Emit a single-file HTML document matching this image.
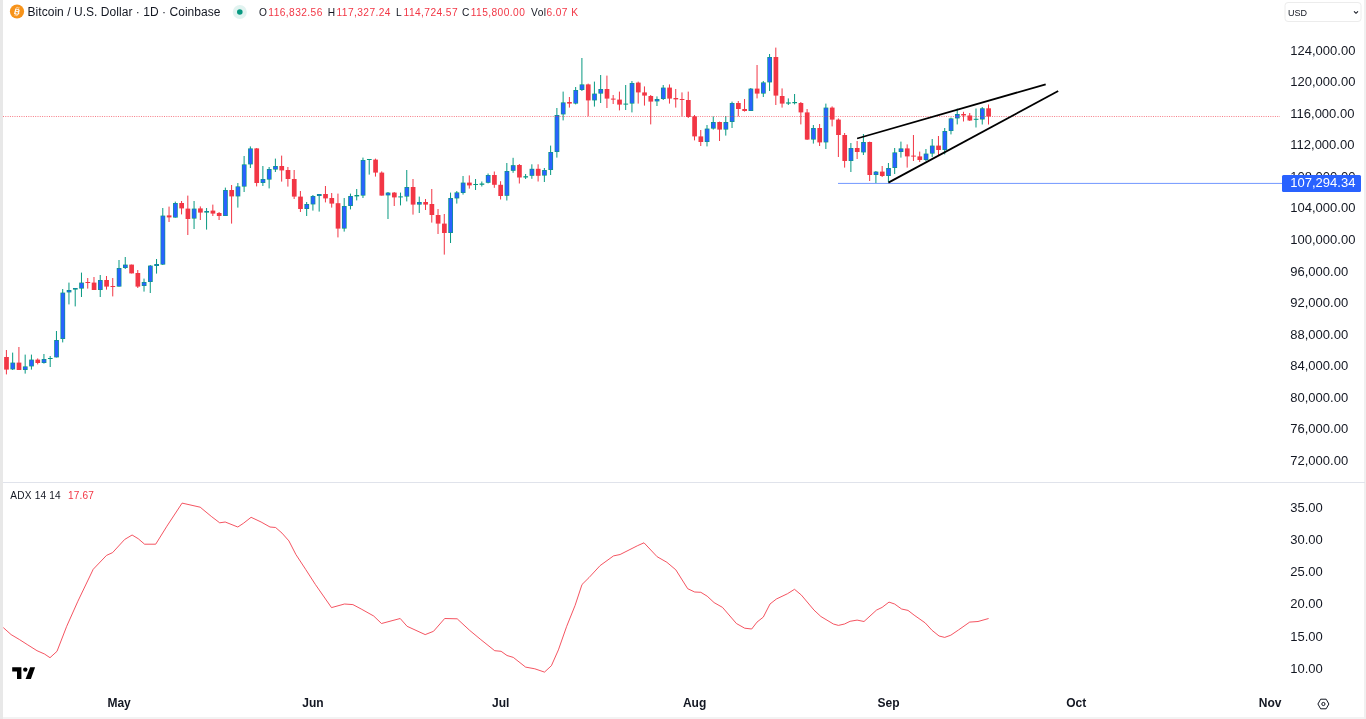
<!DOCTYPE html>
<html><head><meta charset="utf-8"><style>
html,body{margin:0;padding:0;background:#fff;}
body{width:1366px;height:719px;overflow:hidden;position:relative;font-family:"Liberation Sans",sans-serif;}
svg{position:absolute;left:0;top:0;will-change:transform;}
</style></head><body>
<svg width="1366" height="719" viewBox="0 0 1366 719" font-family="Liberation Sans, sans-serif">
<rect x="0" y="0" width="1366" height="719" fill="#ffffff"/>
<!-- borders -->
<rect x="0" y="0" width="3" height="719" fill="#e8e8e8"/>
<rect x="3" y="717" width="1366" height="2" fill="#f3f3f3"/>
<rect x="1364" y="0" width="2" height="719" fill="#f0f0f0"/>
<!-- pane separator -->
<rect x="3" y="482" width="1362" height="1" fill="#e0e3eb"/>
<!-- horizontal blue line -->
<rect x="838" y="182.9" width="444" height="1.1" fill="#2962ff" opacity="0.6"/>
<g fill="#f23645"><rect x="5.90" y="350.0" width="1" height="24.4"/><rect x="18.41" y="347.0" width="1" height="23.0"/><rect x="37.18" y="358.4" width="1" height="6.0"/><rect x="87.22" y="278.0" width="1" height="10.6"/><rect x="93.48" y="277.0" width="1" height="13.0"/><rect x="105.99" y="276.0" width="1" height="13.6"/><rect x="112.24" y="278.0" width="1" height="18.4"/><rect x="131.01" y="264.6" width="1" height="8.8"/><rect x="137.26" y="270.0" width="1" height="18.0"/><rect x="168.54" y="206.6" width="1" height="15.4"/><rect x="181.05" y="201.0" width="1" height="13.4"/><rect x="187.31" y="195.6" width="1" height="39.4"/><rect x="199.82" y="206.4" width="1" height="13.6"/><rect x="212.33" y="204.6" width="1" height="11.4"/><rect x="218.58" y="212.0" width="1" height="8.0"/><rect x="231.09" y="185.0" width="1" height="38.6"/><rect x="256.12" y="148.0" width="1" height="38.4"/><rect x="281.14" y="155.6" width="1" height="26.0"/><rect x="287.39" y="167.0" width="1" height="19.6"/><rect x="293.65" y="170.0" width="1" height="29.0"/><rect x="299.90" y="191.0" width="1" height="21.0"/><rect x="324.93" y="186.0" width="1" height="16.4"/><rect x="331.18" y="193.0" width="1" height="14.6"/><rect x="337.44" y="193.6" width="1" height="43.8"/><rect x="374.97" y="158.6" width="1" height="18.0"/><rect x="381.22" y="171.4" width="1" height="24.2"/><rect x="393.73" y="192.0" width="1" height="14.0"/><rect x="412.50" y="179.0" width="1" height="35.6"/><rect x="425.01" y="199.0" width="1" height="11.0"/><rect x="431.27" y="189.0" width="1" height="33.6"/><rect x="437.52" y="209.0" width="1" height="25.0"/><rect x="443.78" y="214.0" width="1" height="40.6"/><rect x="468.80" y="175.4" width="1" height="13.2"/><rect x="493.82" y="171.5" width="1" height="16.3"/><rect x="500.08" y="181.2" width="1" height="18.3"/><rect x="518.84" y="164.0" width="1" height="19.5"/><rect x="537.61" y="164.3" width="1" height="17.2"/><rect x="568.89" y="97.0" width="1" height="10.6"/><rect x="587.65" y="83.6" width="1" height="32.8"/><rect x="606.42" y="75.6" width="1" height="32.4"/><rect x="612.67" y="95.0" width="1" height="9.0"/><rect x="618.93" y="91.6" width="1" height="18.8"/><rect x="637.70" y="81.6" width="1" height="22.0"/><rect x="643.95" y="86.4" width="1" height="19.2"/><rect x="650.21" y="95.0" width="1" height="29.4"/><rect x="668.97" y="84.4" width="1" height="19.2"/><rect x="675.23" y="89.0" width="1" height="18.6"/><rect x="681.48" y="92.4" width="1" height="24.0"/><rect x="687.74" y="91.6" width="1" height="26.4"/><rect x="693.99" y="115.0" width="1" height="25.4"/><rect x="700.25" y="130.0" width="1" height="16.0"/><rect x="719.02" y="121.6" width="1" height="19.4"/><rect x="737.78" y="101.0" width="1" height="15.4"/><rect x="744.04" y="99.0" width="1" height="12.6"/><rect x="756.55" y="65.0" width="1" height="33.4"/><rect x="775.31" y="47.6" width="1" height="57.4"/><rect x="781.57" y="88.4" width="1" height="19.2"/><rect x="800.34" y="102.0" width="1" height="22.4"/><rect x="806.59" y="109.0" width="1" height="31.0"/><rect x="819.10" y="124.0" width="1" height="22.0"/><rect x="831.61" y="106.4" width="1" height="20.0"/><rect x="837.87" y="118.4" width="1" height="38.6"/><rect x="844.12" y="133.0" width="1" height="34.6"/><rect x="856.63" y="141.0" width="1" height="18.0"/><rect x="869.15" y="141.6" width="1" height="39.4"/><rect x="881.66" y="166.0" width="1" height="11.0"/><rect x="906.68" y="144.4" width="1" height="23.2"/><rect x="912.93" y="135.0" width="1" height="26.0"/><rect x="919.19" y="151.6" width="1" height="10.4"/><rect x="937.95" y="136.0" width="1" height="19.6"/><rect x="962.98" y="111.8" width="1" height="9.7"/><rect x="969.23" y="113.0" width="1" height="8.0"/><rect x="988.00" y="104.5" width="1" height="20.0"/><rect x="4.15" y="357.0" width="4.7" height="12.6"/><rect x="16.66" y="362.6" width="4.7" height="7.4"/><rect x="35.43" y="359.6" width="4.7" height="3.4"/><rect x="85.47" y="282.0" width="4.7" height="1.0"/><rect x="91.73" y="282.6" width="4.7" height="7.4"/><rect x="104.24" y="280.0" width="4.7" height="6.6"/><rect x="110.49" y="286.0" width="4.7" height="1.0"/><rect x="129.26" y="264.6" width="4.7" height="8.8"/><rect x="135.51" y="273.0" width="4.7" height="13.6"/><rect x="166.79" y="215.4" width="4.7" height="2.0"/><rect x="179.30" y="203.0" width="4.7" height="5.4"/><rect x="185.56" y="208.6" width="4.7" height="10.4"/><rect x="198.07" y="208.4" width="4.7" height="4.2"/><rect x="210.58" y="210.6" width="4.7" height="3.0"/><rect x="216.83" y="213.0" width="4.7" height="3.0"/><rect x="229.34" y="190.0" width="4.7" height="6.4"/><rect x="254.37" y="148.4" width="4.7" height="34.6"/><rect x="279.39" y="166.0" width="4.7" height="4.4"/><rect x="285.64" y="170.0" width="4.7" height="9.0"/><rect x="291.90" y="179.0" width="4.7" height="17.6"/><rect x="298.15" y="196.6" width="4.7" height="12.4"/><rect x="323.18" y="194.0" width="4.7" height="4.4"/><rect x="329.43" y="198.0" width="4.7" height="5.6"/><rect x="335.69" y="203.2" width="4.7" height="25.4"/><rect x="373.22" y="159.6" width="4.7" height="13.0"/><rect x="379.47" y="172.6" width="4.7" height="23.0"/><rect x="391.98" y="192.6" width="4.7" height="4.8"/><rect x="410.75" y="187.0" width="4.7" height="17.6"/><rect x="423.26" y="202.0" width="4.7" height="2.6"/><rect x="429.52" y="204.0" width="4.7" height="11.0"/><rect x="435.77" y="215.0" width="4.7" height="8.6"/><rect x="442.03" y="223.6" width="4.7" height="9.4"/><rect x="467.05" y="182.6" width="4.7" height="2.8"/><rect x="492.07" y="175.0" width="4.7" height="9.8"/><rect x="498.33" y="184.8" width="4.7" height="11.2"/><rect x="517.09" y="165.0" width="4.7" height="12.5"/><rect x="535.86" y="168.8" width="4.7" height="7.0"/><rect x="567.14" y="102.0" width="4.7" height="1.6"/><rect x="585.90" y="84.4" width="4.7" height="16.0"/><rect x="604.67" y="89.0" width="4.7" height="9.6"/><rect x="610.92" y="98.6" width="4.7" height="1.0"/><rect x="617.18" y="99.6" width="4.7" height="5.0"/><rect x="635.95" y="82.6" width="4.7" height="9.8"/><rect x="642.20" y="92.4" width="4.7" height="3.2"/><rect x="648.46" y="96.0" width="4.7" height="5.6"/><rect x="667.22" y="87.6" width="4.7" height="11.0"/><rect x="673.48" y="98.0" width="4.7" height="1.4"/><rect x="679.73" y="99.0" width="4.7" height="1.0"/><rect x="685.99" y="100.0" width="4.7" height="17.0"/><rect x="692.24" y="116.4" width="4.7" height="20.0"/><rect x="698.50" y="136.4" width="4.7" height="5.6"/><rect x="717.27" y="122.0" width="4.7" height="7.6"/><rect x="736.03" y="103.0" width="4.7" height="6.0"/><rect x="742.29" y="109.0" width="4.7" height="2.0"/><rect x="754.80" y="88.6" width="4.7" height="5.0"/><rect x="773.56" y="57.0" width="4.7" height="38.6"/><rect x="779.82" y="96.0" width="4.7" height="7.6"/><rect x="798.59" y="103.0" width="4.7" height="9.4"/><rect x="804.84" y="112.4" width="4.7" height="27.2"/><rect x="817.35" y="128.0" width="4.7" height="14.4"/><rect x="829.86" y="107.6" width="4.7" height="12.0"/><rect x="836.12" y="119.6" width="4.7" height="15.4"/><rect x="842.37" y="135.0" width="4.7" height="26.0"/><rect x="854.88" y="148.0" width="4.7" height="4.0"/><rect x="867.40" y="142.0" width="4.7" height="33.0"/><rect x="879.91" y="171.6" width="4.7" height="4.4"/><rect x="904.93" y="148.4" width="4.7" height="8.0"/><rect x="911.18" y="155.6" width="4.7" height="1.0"/><rect x="917.44" y="156.4" width="4.7" height="3.6"/><rect x="936.20" y="145.6" width="4.7" height="4.4"/><rect x="961.23" y="114.0" width="4.7" height="1.5"/><rect x="967.48" y="115.5" width="4.7" height="5.0"/><rect x="986.25" y="108.3" width="4.7" height="8.2"/></g><g fill="#089981"><rect x="12.16" y="352.6" width="1" height="17.4"/><rect x="24.67" y="354.6" width="1" height="19.0"/><rect x="30.92" y="354.6" width="1" height="15.0"/><rect x="43.43" y="354.0" width="1" height="9.6"/><rect x="49.69" y="356.0" width="1" height="11.0"/><rect x="55.94" y="331.0" width="1" height="26.4"/><rect x="62.20" y="289.0" width="1" height="53.4"/><rect x="68.45" y="282.6" width="1" height="21.8"/><rect x="74.71" y="288.0" width="1" height="18.4"/><rect x="80.96" y="272.6" width="1" height="24.4"/><rect x="99.73" y="275.0" width="1" height="22.0"/><rect x="118.50" y="260.0" width="1" height="26.6"/><rect x="124.75" y="257.0" width="1" height="12.0"/><rect x="143.52" y="278.6" width="1" height="13.0"/><rect x="149.77" y="265.0" width="1" height="28.0"/><rect x="156.03" y="259.0" width="1" height="14.6"/><rect x="162.28" y="208.0" width="1" height="57.0"/><rect x="174.80" y="201.6" width="1" height="16.0"/><rect x="193.56" y="201.0" width="1" height="28.0"/><rect x="206.07" y="208.0" width="1" height="21.6"/><rect x="224.84" y="187.6" width="1" height="28.4"/><rect x="237.35" y="183.0" width="1" height="24.6"/><rect x="243.61" y="156.0" width="1" height="36.0"/><rect x="249.86" y="146.4" width="1" height="21.6"/><rect x="262.37" y="166.0" width="1" height="20.0"/><rect x="268.63" y="167.0" width="1" height="21.4"/><rect x="274.88" y="158.6" width="1" height="13.4"/><rect x="306.16" y="202.0" width="1" height="14.0"/><rect x="312.41" y="195.0" width="1" height="15.6"/><rect x="318.67" y="194.0" width="1" height="17.6"/><rect x="343.69" y="198.0" width="1" height="33.6"/><rect x="349.95" y="193.6" width="1" height="15.8"/><rect x="356.20" y="189.0" width="1" height="11.4"/><rect x="362.46" y="157.6" width="1" height="40.4"/><rect x="368.71" y="159.0" width="1" height="15.6"/><rect x="387.48" y="192.0" width="1" height="27.0"/><rect x="399.99" y="192.6" width="1" height="12.8"/><rect x="406.25" y="170.0" width="1" height="31.4"/><rect x="418.76" y="196.6" width="1" height="16.4"/><rect x="450.03" y="192.6" width="1" height="50.4"/><rect x="456.29" y="191.0" width="1" height="12.6"/><rect x="462.54" y="176.0" width="1" height="18.6"/><rect x="475.05" y="179.0" width="1" height="11.0"/><rect x="481.31" y="181.5" width="1" height="5.0"/><rect x="487.57" y="173.5" width="1" height="9.9"/><rect x="506.33" y="163.0" width="1" height="37.5"/><rect x="512.59" y="157.8" width="1" height="15.0"/><rect x="525.10" y="174.0" width="1" height="5.0"/><rect x="531.35" y="164.3" width="1" height="14.5"/><rect x="543.86" y="168.0" width="1" height="14.0"/><rect x="550.12" y="145.6" width="1" height="29.4"/><rect x="556.38" y="108.0" width="1" height="49.6"/><rect x="562.63" y="91.6" width="1" height="28.8"/><rect x="575.14" y="87.0" width="1" height="17.4"/><rect x="581.40" y="58.0" width="1" height="33.0"/><rect x="593.91" y="81.6" width="1" height="25.0"/><rect x="600.16" y="75.0" width="1" height="28.0"/><rect x="625.18" y="85.0" width="1" height="25.0"/><rect x="631.44" y="81.0" width="1" height="31.4"/><rect x="656.46" y="96.4" width="1" height="9.6"/><rect x="662.72" y="85.0" width="1" height="15.0"/><rect x="706.50" y="125.0" width="1" height="21.4"/><rect x="712.76" y="116.4" width="1" height="13.2"/><rect x="725.27" y="116.0" width="1" height="19.6"/><rect x="731.53" y="101.6" width="1" height="26.4"/><rect x="750.29" y="88.0" width="1" height="23.0"/><rect x="762.80" y="81.0" width="1" height="16.0"/><rect x="769.06" y="54.0" width="1" height="37.0"/><rect x="787.82" y="98.4" width="1" height="6.6"/><rect x="794.08" y="94.0" width="1" height="10.4"/><rect x="812.85" y="125.0" width="1" height="18.6"/><rect x="825.36" y="103.6" width="1" height="45.4"/><rect x="850.38" y="143.0" width="1" height="29.0"/><rect x="862.89" y="134.0" width="1" height="21.0"/><rect x="875.40" y="171.0" width="1" height="12.0"/><rect x="887.91" y="163.0" width="1" height="19.0"/><rect x="894.17" y="148.0" width="1" height="26.0"/><rect x="900.42" y="141.6" width="1" height="16.0"/><rect x="925.44" y="149.0" width="1" height="12.0"/><rect x="931.70" y="139.0" width="1" height="18.0"/><rect x="944.21" y="128.0" width="1" height="26.4"/><rect x="950.47" y="117.6" width="1" height="16.8"/><rect x="956.72" y="108.6" width="1" height="15.8"/><rect x="975.49" y="108.5" width="1" height="19.0"/><rect x="981.74" y="107.0" width="1" height="17.5"/><rect x="10.41" y="362.6" width="4.7" height="6.8"/><rect x="22.92" y="366.4" width="4.7" height="3.6"/><rect x="29.17" y="359.6" width="4.7" height="6.8"/><rect x="41.68" y="359.0" width="4.7" height="4.0"/><rect x="47.94" y="358.0" width="4.7" height="1.0"/><rect x="54.19" y="340.0" width="4.7" height="17.4"/><rect x="60.45" y="292.6" width="4.7" height="46.4"/><rect x="66.70" y="290.0" width="4.7" height="2.4"/><rect x="72.96" y="288.0" width="4.7" height="1.6"/><rect x="79.21" y="282.6" width="4.7" height="6.0"/><rect x="97.98" y="280.0" width="4.7" height="10.0"/><rect x="116.75" y="268.0" width="4.7" height="18.6"/><rect x="123.00" y="264.6" width="4.7" height="3.4"/><rect x="141.77" y="282.0" width="4.7" height="4.0"/><rect x="148.02" y="265.6" width="4.7" height="16.4"/><rect x="154.28" y="264.0" width="4.7" height="2.0"/><rect x="160.53" y="215.6" width="4.7" height="49.0"/><rect x="173.05" y="203.0" width="4.7" height="14.6"/><rect x="191.81" y="208.6" width="4.7" height="10.0"/><rect x="204.32" y="211.0" width="4.7" height="1.6"/><rect x="223.09" y="190.0" width="4.7" height="26.0"/><rect x="235.60" y="186.4" width="4.7" height="10.0"/><rect x="241.86" y="164.4" width="4.7" height="22.2"/><rect x="248.11" y="148.4" width="4.7" height="16.0"/><rect x="260.62" y="179.0" width="4.7" height="4.0"/><rect x="266.88" y="169.0" width="4.7" height="10.6"/><rect x="273.13" y="166.0" width="4.7" height="3.6"/><rect x="304.41" y="204.0" width="4.7" height="5.0"/><rect x="310.66" y="196.0" width="4.7" height="8.4"/><rect x="316.92" y="194.0" width="4.7" height="2.0"/><rect x="341.94" y="206.0" width="4.7" height="22.6"/><rect x="348.20" y="196.0" width="4.7" height="10.0"/><rect x="354.45" y="195.0" width="4.7" height="1.4"/><rect x="360.71" y="160.0" width="4.7" height="35.6"/><rect x="366.96" y="159.0" width="4.7" height="1.0"/><rect x="385.73" y="192.6" width="4.7" height="2.8"/><rect x="398.24" y="196.4" width="4.7" height="1.0"/><rect x="404.50" y="187.0" width="4.7" height="9.6"/><rect x="417.01" y="202.0" width="4.7" height="2.6"/><rect x="448.28" y="198.0" width="4.7" height="35.0"/><rect x="454.54" y="192.4" width="4.7" height="6.0"/><rect x="460.79" y="182.6" width="4.7" height="10.4"/><rect x="473.30" y="184.0" width="4.7" height="1.0"/><rect x="479.56" y="183.5" width="4.7" height="1.3"/><rect x="485.82" y="175.0" width="4.7" height="7.8"/><rect x="504.58" y="171.0" width="4.7" height="24.8"/><rect x="510.84" y="165.2" width="4.7" height="5.6"/><rect x="523.35" y="176.2" width="4.7" height="1.3"/><rect x="529.60" y="168.8" width="4.7" height="7.0"/><rect x="542.11" y="170.0" width="4.7" height="5.6"/><rect x="548.37" y="152.0" width="4.7" height="18.0"/><rect x="554.63" y="115.0" width="4.7" height="37.0"/><rect x="560.88" y="102.4" width="4.7" height="12.0"/><rect x="573.39" y="90.0" width="4.7" height="13.6"/><rect x="579.65" y="84.4" width="4.7" height="5.6"/><rect x="592.16" y="93.6" width="4.7" height="6.8"/><rect x="598.41" y="89.0" width="4.7" height="4.6"/><rect x="623.43" y="103.6" width="4.7" height="1.0"/><rect x="629.69" y="83.0" width="4.7" height="20.6"/><rect x="654.71" y="99.0" width="4.7" height="2.4"/><rect x="660.97" y="87.6" width="4.7" height="11.4"/><rect x="704.75" y="128.6" width="4.7" height="13.4"/><rect x="711.01" y="122.0" width="4.7" height="6.6"/><rect x="723.52" y="122.0" width="4.7" height="7.6"/><rect x="729.78" y="103.0" width="4.7" height="19.0"/><rect x="748.54" y="88.6" width="4.7" height="22.4"/><rect x="761.05" y="82.4" width="4.7" height="11.2"/><rect x="767.31" y="57.0" width="4.7" height="25.4"/><rect x="786.07" y="102.4" width="4.7" height="1.2"/><rect x="792.33" y="102.0" width="4.7" height="1.2"/><rect x="811.10" y="128.0" width="4.7" height="11.6"/><rect x="823.61" y="107.6" width="4.7" height="34.8"/><rect x="848.63" y="148.0" width="4.7" height="13.0"/><rect x="861.14" y="142.0" width="4.7" height="10.4"/><rect x="873.65" y="171.6" width="4.7" height="3.4"/><rect x="886.16" y="168.0" width="4.7" height="8.0"/><rect x="892.42" y="152.4" width="4.7" height="15.6"/><rect x="898.67" y="148.4" width="4.7" height="3.6"/><rect x="923.69" y="153.6" width="4.7" height="6.4"/><rect x="929.95" y="145.6" width="4.7" height="8.0"/><rect x="942.46" y="131.0" width="4.7" height="19.0"/><rect x="948.72" y="118.4" width="4.7" height="12.6"/><rect x="954.97" y="114.0" width="4.7" height="4.4"/><rect x="973.74" y="118.8" width="4.7" height="1.0"/><rect x="979.99" y="108.3" width="4.7" height="11.2"/></g><g fill="#2962ff"><rect x="11.06" y="363.25" width="3.40" height="5.50"/><rect x="23.57" y="367.05" width="3.40" height="2.30"/><rect x="29.82" y="360.25" width="3.40" height="5.50"/><rect x="42.33" y="359.65" width="3.40" height="2.70"/><rect x="54.84" y="340.65" width="3.40" height="16.10"/><rect x="61.10" y="293.25" width="3.40" height="45.10"/><rect x="67.35" y="290.65" width="3.40" height="1.10"/><rect x="73.61" y="288.65" width="3.40" height="0.30"/><rect x="79.86" y="283.25" width="3.40" height="4.70"/><rect x="98.63" y="280.65" width="3.40" height="8.70"/><rect x="117.40" y="268.65" width="3.40" height="17.30"/><rect x="123.65" y="265.25" width="3.40" height="2.10"/><rect x="142.42" y="282.65" width="3.40" height="2.70"/><rect x="148.67" y="266.25" width="3.40" height="15.10"/><rect x="154.93" y="264.65" width="3.40" height="0.70"/><rect x="161.19" y="216.25" width="3.40" height="47.70"/><rect x="173.70" y="203.65" width="3.40" height="13.30"/><rect x="192.46" y="209.25" width="3.40" height="8.70"/><rect x="204.97" y="211.65" width="3.40" height="0.30"/><rect x="223.74" y="190.65" width="3.40" height="24.70"/><rect x="236.25" y="187.05" width="3.40" height="8.70"/><rect x="242.51" y="165.05" width="3.40" height="20.90"/><rect x="248.76" y="149.05" width="3.40" height="14.70"/><rect x="261.27" y="179.65" width="3.40" height="2.70"/><rect x="267.53" y="169.65" width="3.40" height="9.30"/><rect x="273.78" y="166.65" width="3.40" height="2.30"/><rect x="305.06" y="204.65" width="3.40" height="3.70"/><rect x="311.31" y="196.65" width="3.40" height="7.10"/><rect x="317.57" y="194.65" width="3.40" height="0.70"/><rect x="342.59" y="206.65" width="3.40" height="21.30"/><rect x="348.85" y="196.65" width="3.40" height="8.70"/><rect x="361.36" y="160.65" width="3.40" height="34.30"/><rect x="386.38" y="193.25" width="3.40" height="1.50"/><rect x="405.15" y="187.65" width="3.40" height="8.30"/><rect x="417.66" y="202.65" width="3.40" height="1.30"/><rect x="448.93" y="198.65" width="3.40" height="33.70"/><rect x="455.19" y="193.05" width="3.40" height="4.70"/><rect x="461.44" y="183.25" width="3.40" height="9.10"/><rect x="486.47" y="175.65" width="3.40" height="6.50"/><rect x="505.23" y="171.65" width="3.40" height="23.50"/><rect x="511.49" y="165.85" width="3.40" height="4.30"/><rect x="530.25" y="169.45" width="3.40" height="5.70"/><rect x="542.76" y="170.65" width="3.40" height="4.30"/><rect x="549.02" y="152.65" width="3.40" height="16.70"/><rect x="555.28" y="115.65" width="3.40" height="35.70"/><rect x="561.53" y="103.05" width="3.40" height="10.70"/><rect x="574.04" y="90.65" width="3.40" height="12.30"/><rect x="580.30" y="85.05" width="3.40" height="4.30"/><rect x="592.81" y="94.25" width="3.40" height="5.50"/><rect x="599.06" y="89.65" width="3.40" height="3.30"/><rect x="630.34" y="83.65" width="3.40" height="19.30"/><rect x="655.36" y="99.65" width="3.40" height="1.10"/><rect x="661.62" y="88.25" width="3.40" height="10.10"/><rect x="705.40" y="129.25" width="3.40" height="12.10"/><rect x="711.66" y="122.65" width="3.40" height="5.30"/><rect x="724.17" y="122.65" width="3.40" height="6.30"/><rect x="730.43" y="103.65" width="3.40" height="17.70"/><rect x="749.19" y="89.25" width="3.40" height="21.10"/><rect x="761.70" y="83.05" width="3.40" height="9.90"/><rect x="767.96" y="57.65" width="3.40" height="24.10"/><rect x="811.75" y="128.65" width="3.40" height="10.30"/><rect x="824.26" y="108.25" width="3.40" height="33.50"/><rect x="849.28" y="148.65" width="3.40" height="11.70"/><rect x="861.79" y="142.65" width="3.40" height="9.10"/><rect x="874.30" y="172.25" width="3.40" height="2.10"/><rect x="886.81" y="168.65" width="3.40" height="6.70"/><rect x="893.07" y="153.05" width="3.40" height="14.30"/><rect x="899.32" y="149.05" width="3.40" height="2.30"/><rect x="924.34" y="154.25" width="3.40" height="5.10"/><rect x="930.60" y="146.25" width="3.40" height="6.70"/><rect x="943.11" y="131.65" width="3.40" height="17.70"/><rect x="949.37" y="119.05" width="3.40" height="11.30"/><rect x="955.62" y="114.65" width="3.40" height="3.10"/><rect x="980.64" y="108.95" width="3.40" height="9.90"/></g>
<line x1="3" y1="116.5" x2="1280" y2="116.5" stroke="#f23645" stroke-width="1" stroke-dasharray="1 1.3" opacity="0.65"/>
<!-- trendlines -->
<line x1="857.1" y1="138.5" x2="1045.7" y2="84.3" stroke="#000" stroke-width="1.8"/>
<line x1="888.4" y1="182.6" x2="1058.2" y2="91" stroke="#000" stroke-width="1.8"/>
<!-- ADX -->
<polyline points="3.3,627.6 11.1,634.6 19.5,639.6 27.8,644.9 37.0,650.7 44.5,654.0 50.0,657.7 57.0,651.3 66.7,626.3 77.9,601.2 93.2,569.3 106.5,555.4 112.6,552.6 124.6,539.5 132.1,535.0 138.2,538.7 144.6,544.2 155.7,544.2 166.9,526.2 182.1,503.1 200.2,507.2 211.3,516.4 219.7,522.8 225.2,522.0 237.8,527.0 243.3,523.4 251.1,517.3 261.1,522.0 270.0,527.0 275.6,527.5 282.0,533.1 288.9,540.9 295.9,554.5 305.6,569.3 315.4,584.5 331.5,607.6 344.5,604.0 352.9,604.6 361.2,609.0 373.7,616.0 381.5,623.5 400.2,618.5 407.1,626.3 425.2,634.6 433.5,631.3 444.7,618.5 457.2,618.8 469.7,630.4 480.8,639.6 494.7,650.7 501.1,651.3 507.0,655.5 513.3,657.4 525.6,667.1 534.8,668.8 544.5,672.1 551.4,665.7 558.4,649.9 566.7,626.3 575.1,605.4 582.0,584.5 589.0,577.6 600.1,565.6 613.5,555.9 620.1,554.5 637.7,545.6 644.0,542.8 657.1,556.7 666.9,562.3 675.8,569.8 687.7,588.7 694.7,592.0 700.8,592.3 707.2,596.2 714.1,602.6 722.5,607.4 736.4,623.5 744.7,628.2 751.7,629.0 757.0,622.1 763.3,617.1 770.0,604.0 776.4,599.0 787.5,593.7 794.5,589.3 801.4,595.1 814.0,610.1 820.9,616.5 833.4,624.0 838.4,625.4 844.5,624.0 850.1,621.3 857.1,620.1 864.0,621.5 876.5,610.1 882.1,607.4 889.0,602.1 894.6,604.0 901.6,609.0 908.0,610.4 914.1,615.1 925.2,622.9 932.1,630.4 939.1,636.0 944.7,637.4 950.8,635.2 958.6,629.9 969.7,622.1 978.0,621.5 988.6,618.5" fill="none" stroke="#f23645" stroke-width="1" stroke-linejoin="round" opacity="0.85"/>
<!-- price axis labels -->
<g fill="#131722" font-size="13"><text x="1290.3" y="54.8">124,000.00</text><text x="1290.3" y="86.3">120,000.00</text><text x="1290.3" y="117.8">116,000.00</text><text x="1290.3" y="149.4">112,000.00</text><text x="1290.3" y="180.9">108,000.00</text><text x="1290.3" y="212.4">104,000.00</text><text x="1290.3" y="243.9">100,000.00</text><text x="1290.3" y="275.5">96,000.00</text><text x="1290.3" y="307.0">92,000.00</text><text x="1290.3" y="338.5">88,000.00</text><text x="1290.3" y="370.0">84,000.00</text><text x="1290.3" y="401.6">80,000.00</text><text x="1290.3" y="433.1">76,000.00</text><text x="1290.3" y="464.6">72,000.00</text><text x="1290.3" y="511.7">35.00</text><text x="1290.3" y="543.9">30.00</text><text x="1290.3" y="575.9">25.00</text><text x="1290.3" y="608.0">20.00</text><text x="1290.3" y="640.5">15.00</text><text x="1290.3" y="672.8">10.00</text></g>
<!-- blue price label -->
<rect x="1282" y="175" width="79" height="17" rx="1.5" fill="#2962ff"/>
<text x="1290.3" y="187.4" fill="#fff" font-size="13">107,294.34</text>
<!-- months -->
<g fill="#131722" font-size="12" font-weight="700"><text x="119.1" y="707.1" text-anchor="middle">May</text><text x="313.0" y="707.1" text-anchor="middle">Jun</text><text x="500.7" y="707.1" text-anchor="middle">Jul</text><text x="694.6" y="707.1" text-anchor="middle">Aug</text><text x="888.5" y="707.1" text-anchor="middle">Sep</text><text x="1076.2" y="707.1" text-anchor="middle">Oct</text><text x="1270.1" y="707.1" text-anchor="middle">Nov</text></g>
<!-- settings hexagon -->
<g transform="translate(1323.4,704)" fill="none" stroke="#131722" stroke-width="1">
<polygon points="-5.5,0 -2.75,-4.8 2.75,-4.8 5.5,0 2.75,4.8 -2.75,4.8"/>
<circle cx="0" cy="0" r="1.6"/>
</g>
<!-- TV logo -->
<g fill="#000">
<path d="M12.2 667.2H21.4V678.9H17V671.6H12.2Z"/>
<circle cx="25.3" cy="669.6" r="2.2"/>
<path d="M30.2 667.2H35.1L30.9 678.9H25.6Z"/>
</g>
<!-- header -->
<circle cx="17" cy="11.5" r="7.1" fill="#f7931a"/>
<g transform="rotate(14 17 11.5)"><text x="17.1" y="14.6" fill="#fff" font-size="8.2" font-weight="700" text-anchor="middle">B</text><path d="M16.1 7V8.2M17.9 7V8.2M16.1 14.8V16M17.9 14.8V16" stroke="#fff" stroke-width="0.8"/></g>
<text x="27.5" y="16" fill="#131722" font-size="12" textLength="193" lengthAdjust="spacing">Bitcoin / U.S. Dollar · 1D · Coinbase</text>
<circle cx="239.8" cy="12" r="7" fill="#089981" opacity="0.12"/>
<circle cx="239.8" cy="12" r="2.8" fill="#089981"/>
<text y="15.6" font-size="10.2" letter-spacing="0.42" fill="#131722">
<tspan x="259">O</tspan><tspan dx="1" fill="#f23645">116,832.56</tspan>
<tspan x="327.7">H</tspan><tspan dx="1" fill="#f23645">117,327.24</tspan>
<tspan x="396">L</tspan><tspan dx="1.5" fill="#f23645">114,724.57</tspan>
<tspan x="462">C</tspan><tspan dx="1" fill="#f23645">115,800.00</tspan>
<tspan x="531">Vol</tspan><tspan fill="#f23645">6.07 K</tspan>
</text>
<!-- ADX header -->
<text y="499" font-size="10.1" letter-spacing="0.2" fill="#131722"><tspan x="10.3">ADX 14 14</tspan><tspan x="67.9" fill="#f23645">17.67</tspan></text>
<!-- USD select -->
<rect x="1285" y="2.5" width="76" height="19" rx="3" fill="#fff" stroke="#ececec" stroke-width="1"/>
<text x="1288" y="15.8" font-size="9" fill="#131722">USD</text>
<path d="M1354 11.3L1356 13.3L1358 11.3" fill="none" stroke="#131722" stroke-width="1.1"/>
</svg>
</body></html>
